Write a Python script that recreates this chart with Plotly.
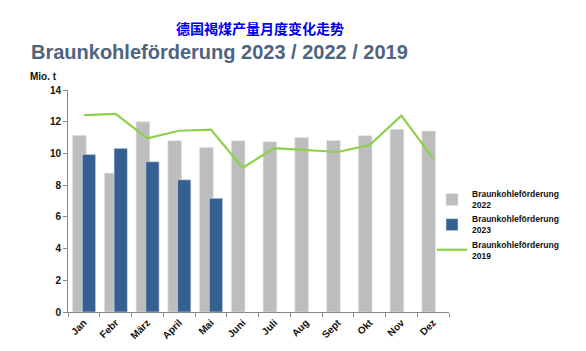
import plotly.graph_objects as go

months = ["Jan", "Febr", "März", "April", "Mai", "Juni", "Juli", "Aug", "Sept", "Okt", "Nov", "Dez"]
v2022 = [11.14, 8.76, 12.0, 10.8, 10.38, 10.8, 10.74, 11.0, 10.82, 11.12, 11.52, 11.41]
v2023 = [9.94, 10.32, 9.48, 8.34, 7.17]
v2019 = [12.42, 12.5, 10.95, 11.43, 11.5, 9.1, 10.34, 10.21, 10.09, 10.53, 12.38, 9.69]

W, H = 586, 351
L, R, T, B = 68, 137, 90, 39
pw, ph = W - L - R, H - T - B

def px(x):
    return (x - L) / pw

def py(y):
    return (H - B - y) / ph

FONT = "Liberation Sans, Arial, sans-serif"

fig = go.Figure()
fig.add_trace(go.Bar(x=months, y=v2022, name="<b>Braunkohleförderung<br>2022</b>",
                     marker=dict(color="#BDBDBD", line=dict(color="#E6E6E6", width=0.6)),
                     offset=-0.355, width=0.43))
fig.add_trace(go.Bar(x=months[:len(v2023)], y=v2023, name="<b>Braunkohleförderung<br>2023</b>",
                     marker=dict(color="#356092", line=dict(color="#DDE3EC", width=0.6)),
                     offset=-0.05, width=0.42))
fig.add_trace(go.Scatter(x=months, y=v2019, mode="lines", name="<b>Braunkohleförderung<br>2019</b>",
                         line=dict(color="#8CD04B", width=2.2)))

fig.update_layout(
    width=W, height=H,
    margin=dict(l=L, r=R, t=T, b=B, autoexpand=False),
    paper_bgcolor="white", plot_bgcolor="white",
    barmode="overlay",
    font=dict(family=FONT, size=10, color="#111"),
    legend=dict(x=px(432), y=py(182), xanchor="left", yanchor="top",
                font=dict(size=8.5, color="#111"), tracegroupgap=3,
                itemwidth=30, bgcolor="rgba(0,0,0,0)"),
    xaxis=dict(type="category", range=[-0.5, 11.5], showline=True, linecolor="#8A8A8A",
               linewidth=1, ticks="outside", tickson="boundaries", ticklen=4,
               tickcolor="#8A8A8A", tickangle=-45, showgrid=False,
               tickfont=dict(size=10, color="#111", family=FONT), tickprefix="<b>", ticksuffix="</b>"),
    yaxis=dict(range=[0, 14], dtick=2, showline=True, linecolor="#8A8A8A", linewidth=1,
               ticks="outside", ticklen=4, tickcolor="#8A8A8A", showgrid=False, zeroline=False,
               tickfont=dict(size=10, color="#111", family=FONT), tickprefix="<b>", ticksuffix="</b>"),
    annotations=[
        dict(text="<b>德国褐煤产量月度变化走势</b>", x=px(260), y=py(28), xref="paper", yref="paper",
             xanchor="center", yanchor="middle", showarrow=False,
             font=dict(family="Noto Sans CJK SC", size=14, color="#0000EE")),
        dict(text="<b>Braunkohleförderung 2023 / 2022 / 2019</b>", x=px(29), y=py(52),
             xref="paper", yref="paper", xanchor="left", yanchor="middle", showarrow=False,
             font=dict(family=FONT, size=20, color="#4F6480")),
        dict(text="<b>Mio. t</b>", x=px(28), y=py(76), xref="paper", yref="paper",
             xanchor="left", yanchor="middle", showarrow=False,
             font=dict(family=FONT, size=10, color="#111")),
    ],
)

fig.write_html("out.html")
